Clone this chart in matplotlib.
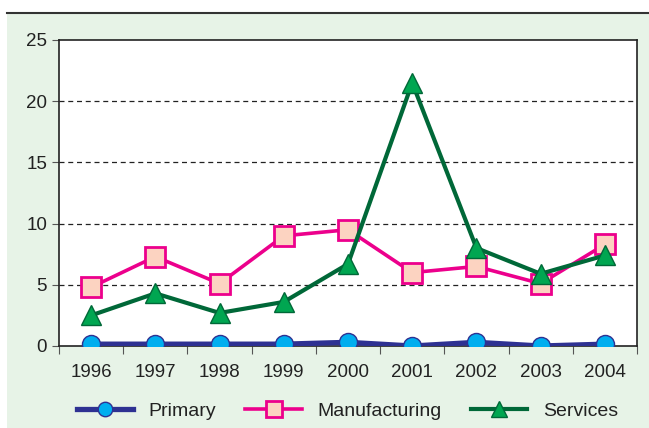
import matplotlib.pyplot as plt
from matplotlib.patches import Rectangle
from matplotlib.lines import Line2D

plt.rcParams['font.family'] = ['Liberation Sans', 'DejaVu Sans']

years = ['1996', '1997', '1998', '1999', '2000', '2001', '2002', '2003', '2004']
primary = [0.15, 0.15, 0.15, 0.15, 0.3, 0.0, 0.3, 0.0, 0.15]
manufacturing = [4.8, 7.3, 5.1, 9.0, 9.5, 6.0, 6.5, 5.1, 8.3]
services = [2.5, 4.3, 2.7, 3.6, 6.7, 21.5, 8.0, 5.9, 7.4]

fig = plt.figure(figsize=(6.49, 4.28), dpi=100)
fig.patch.set_facecolor('white')
# green panel and the dark rule on top
bg = Rectangle((7/649, 0), 1, 1 - 13/428, transform=fig.transFigure,
               facecolor='#e7f3e7', edgecolor='none', zorder=-10)
fig.add_artist(bg)
fig.add_artist(Line2D([7/649, 1], [1 - 13/428, 1 - 13/428], transform=fig.transFigure,
                      color='#333333', lw=1.5, zorder=-9))

ax = fig.add_axes([59/649, 1 - 346/428, (637 - 59)/649, (346 - 40)/428])
ax.set_facecolor('white')

x = [i + 0.5 for i in range(len(years))]
ax.plot(x, primary, '-o', color='#2e3192', lw=3.8, ms=13, mfc='#00aeef', mec='#2e3192',
        mew=1, label='Primary', zorder=3)
ax.plot(x, manufacturing, '-s', color='#ec008c', lw=2.6, ms=14, mfc='#fcd3c1', mec='#ec008c',
        mew=2, label='Manufacturing', zorder=3)
ax.plot(x, services, '-^', color='#006838', lw=3, ms=15, mfc='#00a651', mec='#006838',
        mew=1, label='Services', zorder=4)

ax.set_xlim(0, 9)
ax.set_ylim(0, 25)
ax.set_yticks([0, 5, 10, 15, 20, 25])
ax.set_xticks(range(10))
ax.set_xticklabels([])
ax.set_xticks(x, minor=True)
ax.set_xticklabels(years, minor=True)
ax.tick_params(axis='x', which='minor', length=0, pad=13, labelsize=13.5, labelcolor='#222222')
ax.tick_params(axis='x', which='major', length=6, color='#555555', direction='out')
ax.tick_params(axis='y', length=5, color='#555555', labelsize=13.5, labelcolor='#222222')
for y in [5, 10, 15, 20]:
    ax.axhline(y, color='#222222', lw=0.9, ls=(0, (4, 3)), zorder=1)
for s in ax.spines.values():
    s.set_color('#222222')
    s.set_linewidth(1.2)

fig.legend(loc='center', bbox_to_anchor=(0.535, 1 - 411/428), ncol=3, frameon=False,
           fontsize=14, handlelength=2.9, columnspacing=1.5, handletextpad=0.8,
           markerscale=0.8, labelcolor='#222222')

plt.savefig('out.png', dpi=100)
